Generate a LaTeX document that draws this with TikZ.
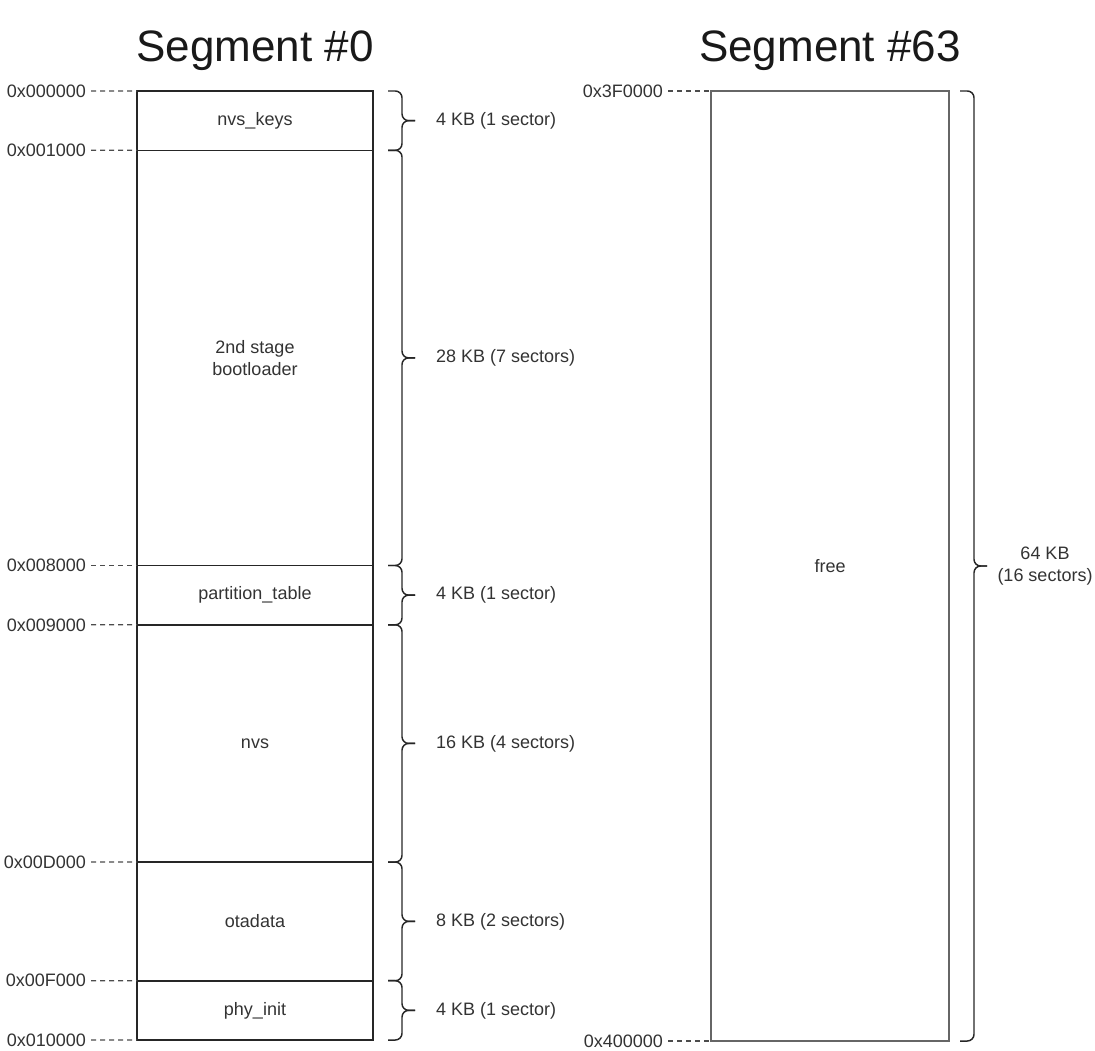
\documentclass[tikz,border=0pt]{standalone}
\usepackage{fontspec}
\setmainfont{Liberation Sans}
\newdimen\pxu \pxu=0.75pt
\newcommand\curly[3]{%
  \draw[brc] (#1,#2) -- (#1+14,#2) -- (#1+14,{(#2+#3)/2}) -- (#1+27,{(#2+#3)/2});
  \draw[brc] (#1+27,{(#2+#3)/2}) -- (#1+14,{(#2+#3)/2}) -- (#1+14,#3) -- (#1,#3);}
\begin{document}
\begin{tikzpicture}[x=0.75pt,y=-0.75pt,
  txt/.style={font=\fontsize{13.5pt}{16.5pt}\selectfont, text=black!80, inner sep=0pt, outer sep=0pt},
  part/.style={txt, draw=black!85, line width=1.2pt, minimum width=236\pxu, align=center},
  freepart/.style={txt, draw=black!60, line width=1.5pt, minimum width=238\pxu, align=center},
  addr/.style={txt, anchor=east},
  size/.style={txt, anchor=west},
  addrline/.style={draw=black!70, line width=0.9pt, dash pattern=on 5\pxu off 4\pxu, shorten <=5\pxu},
  brc/.style={draw=black!85, line width=1.1pt, rounded corners=5pt},
  title/.style={font=\fontsize{33pt}{40pt}\selectfont, text=black!90, anchor=base, inner sep=0pt}]
\useasboundingbox (0,0) rectangle (1095,1050);

% titles
\node[title] (t0) at (255,61) {Segment \#0};
\node[title] (t63) at (830,61) {Segment \#63};

% segment 0 partitions
\node[part, minimum height=59.31\pxu]  (nvskeys) at (255,120.66) {nvs\_keys};
\node[part, minimum height=415.19\pxu] (boot)    at (255,357.9)  {2nd stage\\bootloader};
\node[part, minimum height=59.3\pxu]   (ptable)  at (255,595.15) {partition\_table};
\node[part, minimum height=237.25\pxu] (nvs)     at (255,743.43) {nvs};
\node[part, minimum height=118.65\pxu] (ota)     at (255,921.38) {otadata};
\node[part, minimum height=59.3\pxu]   (phy)     at (255,1010.35){phy\_init};

% segment 63
\node[freepart, minimum height=950\pxu] (free) at (830,566) {free};

% address labels
\node[addr] (a0) at (86,91)      {0x000000};
\node[addr] (a1) at (86,150.31)  {0x001000};
\node[addr] (a2) at (86,565.5)   {0x008000};
\node[addr] (a3) at (86,624.8)   {0x009000};
\node[addr] (a4) at (86,862.05)  {0x00D000};
\node[addr] (a5) at (86,980.7)   {0x00F000};
\node[addr] (a6) at (86,1040)    {0x010000};
\node[addr] (b0) at (663,91)     {0x3F0000};
\node[addr] (b1) at (663,1041)   {0x400000};

\draw[addrline] (a0.east) -- (nvskeys.north west);
\draw[addrline] (a1.east) -- (boot.north west);
\draw[addrline] (a2.east) -- (ptable.north west);
\draw[addrline] (a3.east) -- (nvs.north west);
\draw[addrline] (a4.east) -- (ota.north west);
\draw[addrline] (a5.east) -- (phy.north west);
\draw[addrline] (a6.east) -- (phy.south west);
\draw[addrline] (b0.east) -- (free.north west);
\draw[addrline] (b1.east) -- (free.south west);

% braces
\curly{388}{91}{150.31}
\curly{388}{150.31}{565.5}
\curly{388}{565.5}{624.8}
\curly{388}{624.8}{862.05}
\curly{388}{862.05}{980.7}
\curly{388}{980.7}{1040}
\curly{960}{91}{1041}

% size labels
\node[size] (s0) at (436,120.66) {4 KB (1 sector)};
\node[size] (s1) at (436,357.9)  {28 KB (7 sectors)};
\node[size] (s2) at (436,595.15) {4 KB (1 sector)};
\node[size] (s3) at (436,743.43) {16 KB (4 sectors)};
\node[size] (s4) at (436,921.38) {8 KB (2 sectors)};
\node[size] (s5) at (436,1010.35){4 KB (1 sector)};
\node[txt, align=center] (s6) at (1045,566) {64 KB\\(16 sectors)};
\end{tikzpicture}
\end{document}
